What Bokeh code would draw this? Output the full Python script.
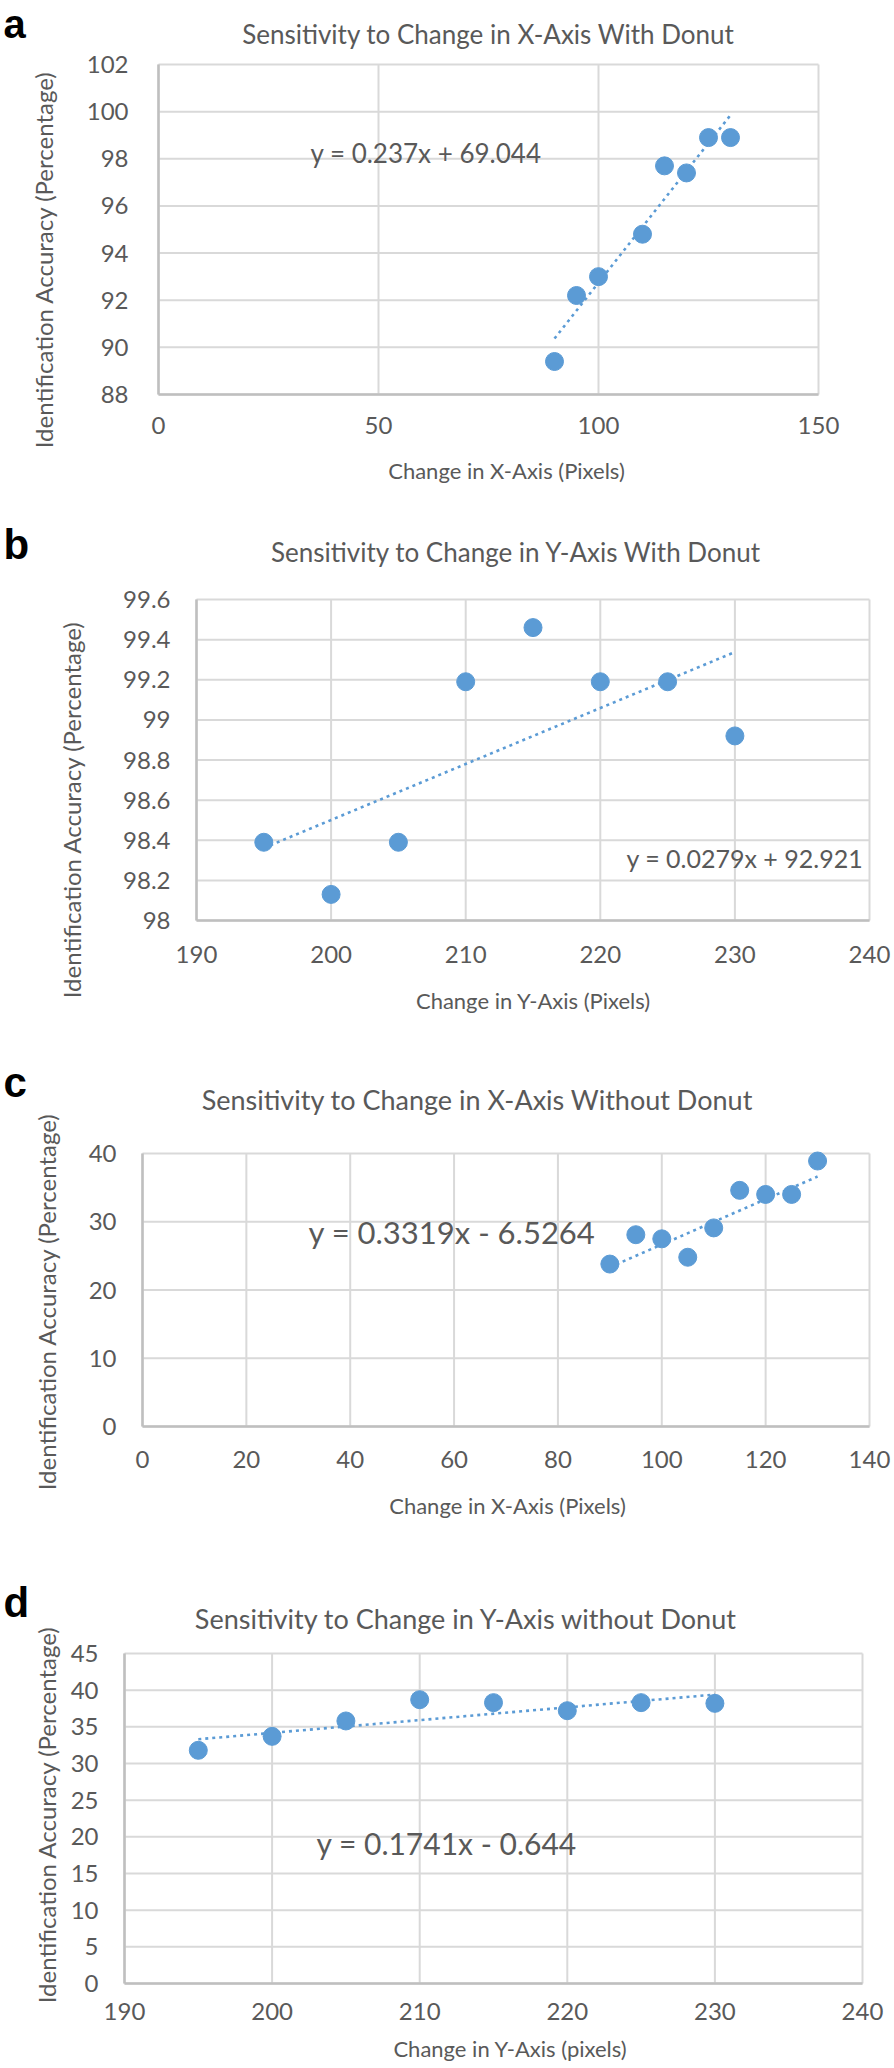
import math
from bokeh.plotting import figure
from bokeh.models import Label, FixedTicker, CustomJSTickFormatter, Range1d
from bokeh.embed import file_html
from bokeh.resources import INLINE

# ---------------- data ----------------
a_x = [90, 95, 100, 110, 115, 120, 125, 130]
a_y = [89.4, 92.2, 93.0, 94.8, 97.7, 97.4, 98.9, 98.9]
a_slope, a_icpt = 0.237, 69.044
a_xticks = [0, 50, 100, 150]
a_yticks = [88, 90, 92, 94, 96, 98, 100, 102]

b_x = [195, 200, 205, 210, 215, 220, 225, 230]
b_y = [98.39, 98.13, 98.39, 99.19, 99.46, 99.19, 99.19, 98.92]
b_slope, b_icpt = 0.0279, 92.921
b_xticks = [190, 200, 210, 220, 230, 240]
b_yticks = [98.0, 98.2, 98.4, 98.6, 98.8, 99.0, 99.2, 99.4, 99.6]

c_x = [90, 95, 100, 105, 110, 115, 120, 125, 130]
c_y = [23.8, 28.1, 27.5, 24.8, 29.1, 34.6, 34.0, 34.0, 38.9]
c_slope, c_icpt = 0.3319, -6.5264
c_xticks = [0, 20, 40, 60, 80, 100, 120, 140]
c_yticks = [0, 10, 20, 30, 40]

d_x = [195, 200, 205, 210, 215, 220, 225, 230]
d_y = [31.8, 33.7, 35.8, 38.7, 38.3, 37.2, 38.3, 38.2]
d_slope, d_icpt = 0.1741, -0.644
d_xticks = [190, 200, 210, 220, 230, 240]
d_yticks = [0, 5, 10, 15, 20, 25, 30, 35, 40, 45]

titles = ["Sensitivity to Change in X-Axis With Donut",
          "Sensitivity to Change in Y-Axis With Donut",
          "Sensitivity to Change in X-Axis Without Donut",
          "Sensitivity to Change in Y-Axis without Donut"]
xlabels = ["Change in X-Axis (Pixels)", "Change in Y-Axis (Pixels)",
           "Change in X-Axis (Pixels)", "Change in Y-Axis (pixels)"]
ylabel = "Identification  Accuracy (Percentage)"
equations = ["y = 0.237x + 69.044", "y = 0.0279x + 92.921",
             "y = 0.3319x - 6.5264", "y = 0.1741x - 0.644"]
letters = ["a", "b", "c", "d"]

# ---------------- style ----------------
FONT = "Lato"
TXT = "#595959"
BLUE = "#5b9bd5"
GRID = "#d9d9d9"
W = 894


def panel(i, x, y, slope, icpt, xticks, yticks, H, frame, title_pos, title_size,
          letter_pos, letter_size, eq_pos, eq_size, xlab_pos, ylab_pos, xstand, ystand):
    # frame = pixel box of the plotting area inside this figure's canvas
    L, R, T, B = frame
    x0, x1 = xticks[0], xticks[-1]
    y0, y1 = yticks[0], yticks[-1]
    sx = (R - L) / (x1 - x0)
    sy = (B - T) / (y1 - y0)
    p = figure(width=W, height=H,
               x_range=Range1d(x0 - L / sx, x1 + (W - R) / sx),
               y_range=Range1d(y0 - (H - B) / sy, y1 + T / sy),
               output_backend="svg", toolbar_location=None, title=None,
               min_border=0)
    p.min_border_left = p.min_border_right = p.min_border_top = p.min_border_bottom = 0
    p.background_fill_color = "white"
    p.border_fill_color = "white"
    p.outline_line_color = None
    p.grid.visible = False

    # gridlines (also forming the light plot-area border)
    p.segment(x0=xticks, y0=[y0] * len(xticks), x1=xticks, y1=[y1] * len(xticks),
              line_color=GRID, line_width=2)
    p.segment(x0=[x0] * len(yticks), y0=yticks, x1=[x1] * len(yticks), y1=yticks,
              line_color=GRID, line_width=2)

    fmt = CustomJSTickFormatter(code="return Number(tick.toFixed(1)).toString();")
    xa, ya = p.xaxis[0], p.yaxis[0]
    xa.fixed_location = y0
    xa.bounds = (x0, x1)
    ya.fixed_location = x0
    ya.bounds = (y0, y1)
    for ax, ticks in ((xa, xticks), (ya, yticks)):
        ax.ticker = FixedTicker(ticks=ticks)
        ax.formatter = fmt
        ax.major_tick_out = 0
        ax.major_tick_in = 0
        ax.minor_tick_out = 0
        ax.minor_tick_in = 0
        ax.axis_line_color = "#bfbfbf"
        ax.axis_line_width = 2.5
        ax.major_label_text_font = FONT
        ax.major_label_text_font_size = "24px"
        ax.major_label_text_color = TXT
    xa.major_label_standoff = xstand
    ya.major_label_standoff = ystand

    # trendline from the displayed equation, over the data's x extent
    tx = [min(x), max(x)]
    ty = [slope * v + icpt for v in tx]
    p.line(tx, ty, line_color=BLUE, line_width=2.6, line_dash="3 4")
    p.scatter(x, y, size=18, fill_color=BLUE, line_color=BLUE)

    def d(fx, fy):
        return (x0 + (fx - L) / sx, y1 + (T - fy) / sy)

    def text(pos, s, size, **kw):
        px, py = d(*pos)
        opts = dict(text_align="center", text_baseline="middle", text_font=FONT,
                    text_font_size=size, text_color=TXT)
        opts.update(kw)
        p.add_layout(Label(x=px, y=py, text=s, **opts))

    text(title_pos, titles[i], title_size)
    text(xlab_pos, xlabels[i], "22px")
    text(ylab_pos, ylabel, "24px", angle=math.pi / 2)
    text(eq_pos, equations[i], eq_size, text_align="left")
    text(letter_pos, letters[i], letter_size, text_align="left", text_font="Liberation Sans",
         text_font_style="bold", text_color="black")
    return p


pa = panel(0, a_x, a_y, a_slope, a_icpt, a_xticks, a_yticks, 520,
           (158, 818, 64, 394), (488, 33), "26px", (3, 23), "40px", (310, 152), "26px",
           (506, 470), (43, 256), 22, 30)
pb = panel(1, b_x, b_y, b_slope, b_icpt, b_xticks, b_yticks, 520,
           (196, 869, 79, 400), (516, 31), "26px", (3, 24), "42px", (626, 337), "25px",
           (533, 480), (71, 286), 25, 26)
pc = panel(2, c_x, c_y, c_slope, c_icpt, c_xticks, c_yticks, 500,
           (142, 869, 113, 386), (477, 59), "27px", (3, 42), "42px", (308, 191), "31px",
           (507, 465), (46, 258), 24, 26)
pd = panel(3, d_x, d_y, d_slope, d_icpt, d_xticks, d_yticks, 528,
           (124, 862, 113, 443), (466, 78), "27px", (3, 62), "42px", (316, 302), "30px",
           (510, 508), (46, 271), 19, 26)

open("out.html", "w").write(file_html([pa, pb, pc, pd], INLINE))
